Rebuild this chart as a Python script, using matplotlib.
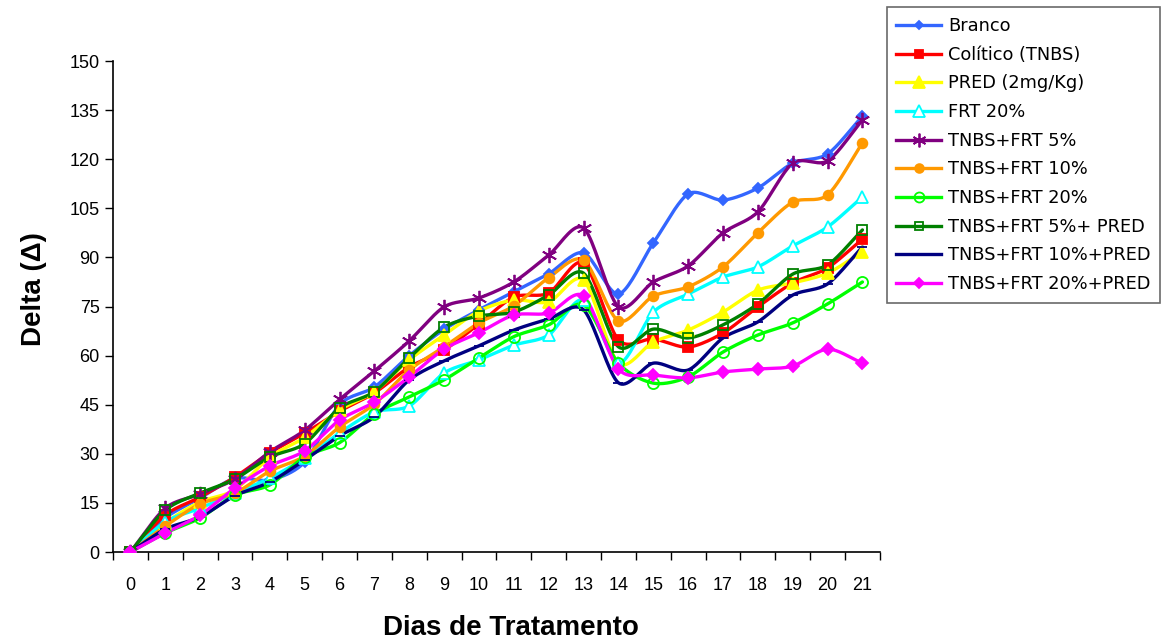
import numpy as np
import matplotlib
matplotlib.use("Agg")
import matplotlib.pyplot as plt
from matplotlib.lines import Line2D

days = list(range(22))

branco = [0, 10.4, 16.5, 22.5, 22.0, 27.5, 45.0, 50.4, 60.0, 68.0, 74.0, 79.5,
          85.0, 91.4, 78.8, 94.4, 109.4, 107.5, 111.2, 118.8, 121.6, 133.2]
colitico = [0, 11.3, 16.8, 22.9, 30.3, 36.3, 43.0, 48.6, 56.5, 61.7, 69.7, 77.9,
            79.1, 88.3, 64.8, 65.1, 62.6, 66.9, 74.9, 82.2, 86.8, 95.6]
pred = [0, 8.9, 15.3, 19.0, 29.0, 35.0, 43.4, 49.0, 58.7, 66.3, 73.6, 77.0,
        76.4, 83.1, 57.7, 64.2, 67.8, 73.3, 80.0, 82.2, 85.2, 91.7]
frt20 = [0, 9.2, 13.4, 18.0, 22.6, 28.7, 36.4, 42.8, 44.6, 54.7, 58.7, 63.2,
         66.3, 77.0, 57.7, 73.3, 78.8, 84.0, 87.1, 93.5, 99.3, 108.5]
tnbs_frt5 = [0, 13.4, 17.7, 22.3, 30.6, 37.2, 46.6, 55.3, 64.5, 74.9, 77.6, 82.5,
             90.7, 99.0, 74.9, 82.5, 87.4, 97.5, 103.9, 118.8, 119.5, 132.0]
tnbs_frt10 = [0, 7.9, 14.7, 18.0, 24.7, 29.3, 38.2, 45.2, 55.6, 62.7, 70.0, 75.2,
              83.8, 89.2, 70.6, 78.2, 81.0, 87.1, 97.5, 106.9, 109.1, 125.0]
tnbs_frt20 = [0, 5.8, 10.4, 17.4, 20.5, 29.1, 33.4, 42.2, 47.4, 52.6, 59.3, 65.8,
              69.4, 75.5, 57.7, 51.6, 53.5, 61.1, 66.3, 70.0, 75.8, 82.5]
tnbs_frt5_pred = [0, 12.8, 18.0, 22.3, 29.0, 33.1, 44.0, 49.0, 59.3, 68.7, 72.1, 73.3,
                  78.5, 85.2, 62.7, 68.1, 65.4, 69.4, 75.8, 84.9, 87.7, 98.4]
tnbs_frt10_pred = [0, 7.0, 10.7, 17.2, 21.4, 28.1, 35.5, 41.3, 52.6, 58.4, 63.0, 67.8,
                   71.2, 74.0, 51.7, 57.7, 55.6, 65.4, 70.3, 78.5, 81.9, 93.2]
tnbs_frt20_pred = [0, 5.8, 11.3, 19.6, 26.3, 30.9, 40.3, 45.8, 53.5, 62.0, 67.0, 72.4,
                   73.0, 78.2, 55.9, 54.1, 53.2, 55.0, 55.9, 56.8, 62.0, 57.7]

labels = ["Branco", "Colítico (TNBS)", "PRED (2mg/Kg)", "FRT 20%", "TNBS+FRT 5%",
          "TNBS+FRT 10%", "TNBS+FRT 20%", "TNBS+FRT 5%+ PRED", "TNBS+FRT 10%+PRED",
          "TNBS+FRT 20%+PRED"]
series = [branco, colitico, pred, frt20, tnbs_frt5, tnbs_frt10, tnbs_frt20,
          tnbs_frt5_pred, tnbs_frt10_pred, tnbs_frt20_pred]

# (color, marker, size, facecolor)
styles = [
    ("#3366FF", "D", 5, "#3366FF"),
    ("#FF0000", "s", 7, "#FF0000"),
    ("#FFFF00", "^", 9, "#FFFF00"),
    ("#00FFFF", "^", 9, "white"),
    ("#800080", (6, 2, 0), 11, "#800080"),
    ("#FF9900", "o", 7, "#FF9900"),
    ("#00FF00", "o", 8, "none"),
    ("#008000", "s", 7, "none"),
    ("#000080", "_", 7, "#000080"),
    ("#FF00FF", "D", 6, "#FF00FF"),
]


def smooth(x, y, n=20):
    """Catmull-Rom curve through the points (like Excel's smoothed line)"""
    x = np.asarray(x, float)
    y = np.asarray(y, float)
    px = np.concatenate([[2 * x[0] - x[1]], x, [2 * x[-1] - x[-2]]])
    py = np.concatenate([[2 * y[0] - y[1]], y, [2 * y[-1] - y[-2]]])
    t = np.linspace(0, 1, n, endpoint=False)
    xs, ys = [], []
    for i in range(1, len(px) - 2):
        for p, out in ((px, xs), (py, ys)):
            p0, p1, p2, p3 = p[i - 1], p[i], p[i + 1], p[i + 2]
            m1 = (p2 - p0) / 2 * 0.85
            m2 = (p3 - p1) / 2 * 0.85
            h00 = 2 * t**3 - 3 * t**2 + 1
            h10 = t**3 - 2 * t**2 + t
            h01 = -2 * t**3 + 3 * t**2
            h11 = t**3 - t**2
            out.extend(h00 * p1 + h10 * m1 + h01 * p2 + h11 * m2)
    xs.append(x[-1])
    ys.append(y[-1])
    return np.array(xs), np.array(ys)


fig = plt.figure(figsize=(11.62, 6.41), dpi=100)
ax = fig.add_axes([0.0972, 0.1388, 0.660, 0.766])

handles = []
for vals, (col, mk, ms, fc) in zip(series, styles):
    sx, sy = smooth(days, vals)
    ax.plot(sx, sy, color=col, lw=2.4, solid_capstyle="round", zorder=2)
    ax.plot(days, vals, ls="none", marker=mk, ms=ms, color=col,
            markerfacecolor=fc, markeredgecolor=col, markeredgewidth=1.3, zorder=3)
    handles.append(Line2D([], [], color=col, lw=2.4, marker=mk, ms=ms,
                          markerfacecolor=fc, markeredgecolor=col,
                          markeredgewidth=1.3))

ax.set_xlim(-0.5, 21.5)
ax.set_ylim(0, 150)
ax.set_yticks(range(0, 151, 15))
ax.set_xticks(days)
ax.set_xticks(np.arange(-0.5, 22, 1), minor=True)
ax.tick_params(axis="x", which="major", length=0, pad=18, labelsize=13)
ax.tick_params(axis="x", which="minor", length=6, direction="out", width=1)
ax.tick_params(axis="y", length=6, direction="out", width=1, labelsize=13)
for lab in ax.get_xticklabels() + ax.get_yticklabels():
    lab.set_family("Liberation Sans")
for s in ("top", "right"):
    ax.spines[s].set_visible(False)
ax.spines["left"].set_linewidth(1.2)
ax.spines["bottom"].set_linewidth(1.2)

fig.text(0.029, 0.549, "Delta (Δ)", rotation=90, ha="center", va="center",
         fontsize=20, fontweight="bold", family="Liberation Sans")
fig.text(0.44, 0.02, "Dias de Tratamento", ha="center", va="center",
         fontsize=20, fontweight="bold", family="Liberation Sans")

leg = fig.legend(handles, labels, loc="upper left", bbox_to_anchor=(0.763, 0.9885),
                 frameon=True, fancybox=False, edgecolor="#444444",
                 prop={"family": "DejaVu Sans", "size": 12.8},
                 handlelength=2.5, handletextpad=0.4, labelspacing=0.6,
                 borderpad=0.55, markerscale=0.9, borderaxespad=0)
leg.get_frame().set_linewidth(1.2)

fig.savefig("out.png", dpi=100, facecolor="white")
